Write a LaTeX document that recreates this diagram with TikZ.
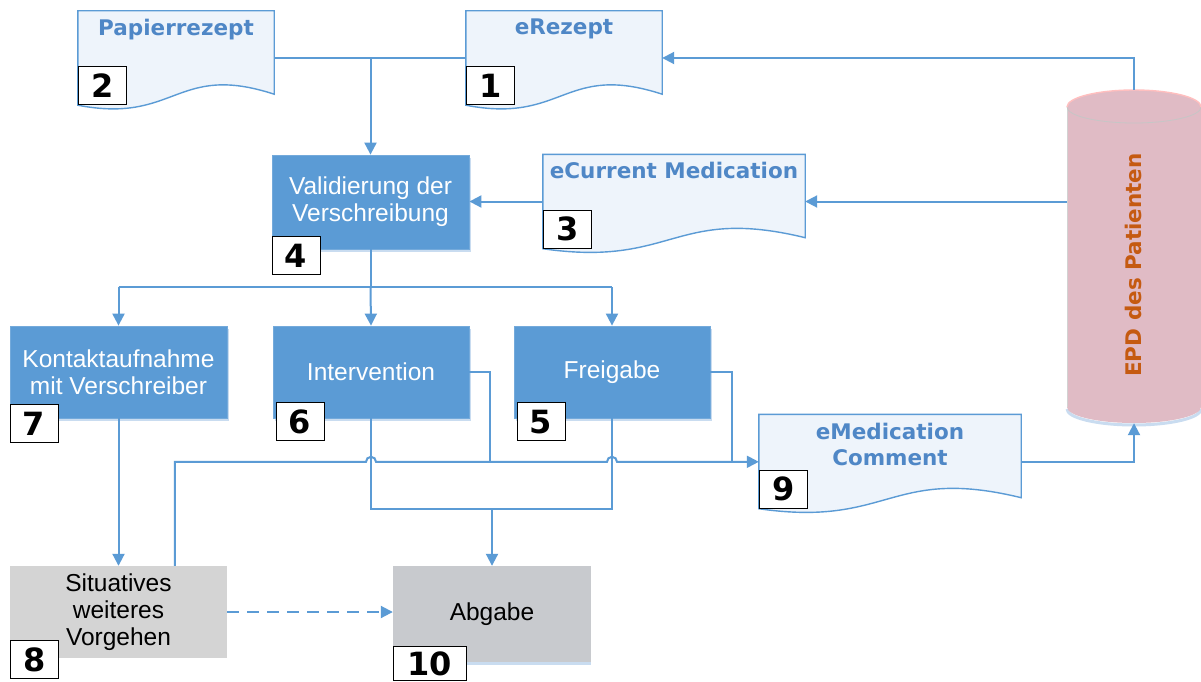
\documentclass[tikz,border=0pt]{standalone}
\usepackage{fontspec}
\setmainfont{Liberation Sans}
\newfontfamily\dv{DejaVu Sans}
\usetikzlibrary{arrows.meta,calc,shadows}
\definecolor{lblue}{HTML}{5B9BD5}
\definecolor{docfill}{HTML}{EEF4FB}
\definecolor{doctext}{HTML}{4F87C6}
\definecolor{shadowblue}{HTML}{C9DCF0}
\definecolor{epdfill}{HTML}{E0BBC5}
\definecolor{epdtext}{HTML}{C55A11}
\definecolor{sitgray}{HTML}{D4D4D4}
\definecolor{abggray}{HTML}{C8CACE}
\tikzset{
  conn/.style={draw=lblue, line width=2pt},
  arr/.style={conn, -{Triangle[length=12pt,width=12pt]}},
  docnode/.style={minimum width=#1, minimum height=94pt, inner sep=0pt},
  docline/.style={fill=docfill, draw=lblue, line width=1.4pt},
  doctitle/.style={text=doctext, font=\dv\bfseries\fontsize{21.5}{26}\selectfont, align=center, inner sep=0pt, anchor=north},
  procbox/.style={fill=lblue, draw=lblue!85!white, line width=0.8pt, text=white,
    font=\fontsize{24.5}{27}\selectfont, align=center, inner sep=0pt,
    drop shadow={shadow xshift=2pt, shadow yshift=-3pt, fill=shadowblue, opacity=1}},
  graybox/.style={text=black, font=\fontsize{24.5}{27}\selectfont, align=center, inner sep=0pt},
  numbox/.style={draw=black, line width=0.8pt, fill=white, minimum width=48pt, minimum height=38pt,
    inner sep=0pt, font=\dv\bfseries\fontsize{32}{32}\selectfont},
}
\newcommand{\drawdoc}[1]{%
  \draw[docline] (#1.north west) -- (#1.north east) -- ($(#1.south east)+(0,-11)$)
    .. controls ($(#1.south)+(0,-43)$) and ($(#1.south)+(0,19)$) .. (#1.south west) -- cycle;}
\begin{document}
\begin{tikzpicture}[x=1pt,y=-1pt]
\useasboundingbox (0,0) rectangle (1201,682);
\fill[white] (0,0) rectangle (1201,682);

% document shapes
\node[docnode=196pt] (pap) at (176,58) {};
\node[docnode=196pt] (erez) at (564,58) {};
\node[docnode=262pt] (ecm) at (674,201.5) {};
\node[docnode=262pt] (emc) at (890,461.5) {};
\drawdoc{pap}
\drawdoc{erez}
\drawdoc{ecm}
\drawdoc{emc}
\node[doctitle] (pap-t) at ($(pap.north)+(0,8)$) {Papierrezept};
\node[doctitle] (erez-t) at ($(erez.north)+(0,8)$) {eRezept};
\node[doctitle] (ecm-t) at ($(ecm.north)+(0,8)$) {eCurrent Medication};
\node[doctitle] (emc-t) at ($(emc.north)+(0,9)$) {eMedication\\Comment};
\node[numbox, anchor=south west] (n2) at (pap.south west) {2};
\node[numbox, anchor=south west] (n1) at (erez.south west) {1};
\node[numbox, anchor=south west] (n3) at (ecm.south west) {3};
\node[numbox, anchor=south west] (n9) at (emc.south west) {9};

% process boxes
\node[procbox, minimum width=197pt, minimum height=94pt] (val) at (370.5,202) {Validierung der\\Verschreibung};
\node[procbox, minimum width=217pt, minimum height=92pt] (kon) at (118.5,372) {Kontaktaufnahme\\mit Verschreiber};
\node[procbox, minimum width=196pt, minimum height=92pt] (int) at (371,372) {Intervention};
\node[procbox, minimum width=196pt, minimum height=92pt] (frei) at (612,372) {Freigabe};
\node[graybox, fill=sitgray, minimum width=217pt, minimum height=92pt] (sit) at (118.5,612) {Situatives\\weiteres\\Vorgehen};
\node[graybox, fill=abggray, minimum width=198pt, minimum height=96pt,
  drop shadow={shadow xshift=0pt, shadow yshift=-3pt, fill=shadowblue, opacity=1}] (abg) at (492,614) {Abgabe};
\node[numbox, anchor=north west] (n4) at ($(val.south west)+(0,-13)$) {4};
\node[numbox, anchor=north west] (n7) at ($(kon.south west)+(0,-14)$) {7};
\node[numbox, anchor=north west] (n6) at ($(int.south west)+(3,-16)$) {6};
\node[numbox, anchor=north west] (n5) at ($(frei.south west)+(3,-16)$) {5};
\node[numbox, anchor=north west] (n8) at ($(sit.south west)+(0,-18)$) {8};
\node[numbox, anchor=north west, minimum width=73pt, minimum height=34pt] (n10) at ($(abg.south west)+(0,-16)$) {10};

% EPD cylinder
\node[minimum width=134pt, minimum height=333pt, inner sep=0pt] (epd) at (1134,256.5) {};
\draw[shadowblue, line width=3pt] (1067,409) arc[start angle=180,end angle=360,x radius=67pt,y radius=16pt];
\fill[epdfill] (1067,107) -- (1067,407) arc[start angle=180,end angle=360,x radius=67pt,y radius=16pt]
  -- (1201,107) arc[start angle=0,end angle=180,x radius=67pt,y radius=17pt] -- cycle;
\draw[gray!35, line width=0.8pt] (1067,107) -- (1067,407);
\draw[gray!45, line width=0.8pt] (1067,107) arc[start angle=180,end angle=360,x radius=67pt,y radius=16pt];
\draw[red!25, line width=1.4pt] (1067,107) arc[start angle=180,end angle=0,x radius=67pt,y radius=17pt];
\node[rotate=90, text=epdtext, font=\dv\bfseries\fontsize{21.5}{26}\selectfont] (epd-t) at (1133,265) {EPD des Patienten};

% connectors
\draw[conn] (pap.east) -- (erez.west);
\draw[arr] (val.north |- pap.east) -- (val.north);
\draw[arr] (epd.north) |- (erez.east);
\draw[arr] (ecm.west) -- (ecm.west -| val.east);
\draw[arr] (ecm.east -| epd.west) -- (ecm.east);
\coordinate (split) at ($(val.south)+(0,38)$);
\draw[conn] (val.south) -- (split);
\draw[conn] (kon.north |- split) -- (frei.north |- split);
\draw[arr] (kon.north |- split) -- (kon.north);
\draw[arr] (split) -- (int.north);
\draw[arr] (frei.north |- split) -- (frei.north);
\draw[arr] (kon.south) -- (sit.north);
\coordinate (sitout) at ($(sit.north west)+(165,0)$);
\coordinate (bus) at ($(sitout)+(0,-104)$);
\draw[conn] (int.south) |- ($(abg.north)+(0,-57)$) -| (frei.south);
\coordinate (mrg) at ($(abg.north)+(0,-57)$);
\draw[arr] (mrg) -- (abg.north);
\draw[conn] (int.east) -| ($(int.east)+(21,90)$);
\draw[conn] (frei.east) -| ($(frei.east)+(22,90)$);
\draw[arr] (sitout) -- (bus) -- ($(bus -| int.south)+(-5,0)$) arc[start angle=180,end angle=0,radius=5pt]
  -- ($(bus -| frei.south)+(-5,0)$) arc[start angle=180,end angle=0,radius=5pt] -- (bus -| emc.west);
\draw[arr, dash pattern=on 12pt off 8pt] (sit.east) -- (sit.east -| abg.west);
\draw[arr] (emc.east) -| (epd.south);
\end{tikzpicture}
\end{document}
